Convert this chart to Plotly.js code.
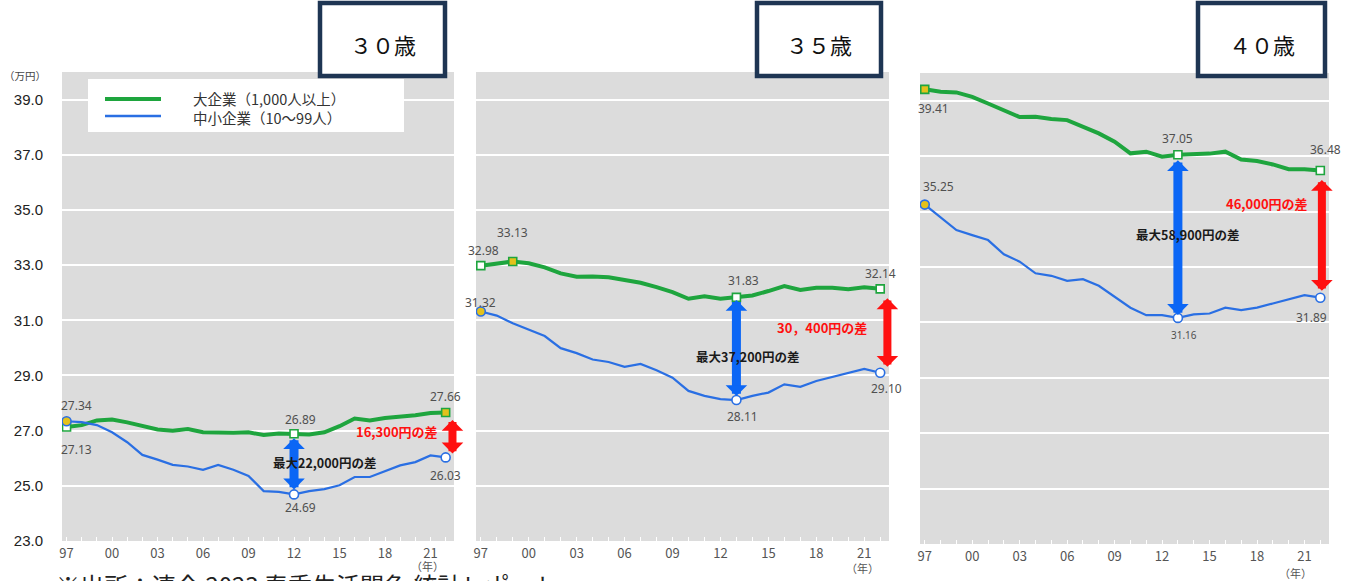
<!DOCTYPE html>
<html><head><meta charset="utf-8">
<script src="https://cdn.plot.ly/plotly-3.0.1.min.js"></script>
<style>html,body{margin:0;padding:0;background:#fff;}#chart{width:1349px;height:581px;}</style>
</head><body><div id="chart"></div>
<script>
// ---------------- data ----------------
const years = [1997,1998,1999,2000,2001,2002,2003,2004,2005,2006,2007,2008,2009,2010,2011,2012,2013,2014,2015,2016,2017,2018,2019,2020,2021,2022];
const large30 = [27.13,27.20,27.37,27.40,27.30,27.18,27.04,27.00,27.06,26.94,26.92,26.92,26.94,26.84,26.90,26.89,26.86,26.94,27.16,27.44,27.37,27.46,27.50,27.56,27.64,27.66];
const small30 = [27.34,27.31,27.20,26.94,26.58,26.12,25.95,25.76,25.70,25.58,25.76,25.58,25.36,24.81,24.78,24.69,24.81,24.88,25.02,25.32,25.32,25.53,25.74,25.86,26.10,26.03];
const large35 = [32.98,33.04,33.13,33.07,32.92,32.70,32.58,32.59,32.56,32.46,32.36,32.20,32.02,31.78,31.87,31.78,31.83,31.90,32.06,32.24,32.10,32.18,32.18,32.13,32.20,32.14];
const small35 = [31.32,31.17,30.89,30.65,30.43,29.99,29.81,29.58,29.49,29.31,29.42,29.19,28.92,28.44,28.26,28.14,28.11,28.26,28.38,28.68,28.59,28.80,28.94,29.10,29.24,29.10];
const large40 = [39.41,39.32,39.30,39.14,38.90,38.64,38.41,38.42,38.34,38.30,38.06,37.82,37.52,37.10,37.16,36.98,37.05,37.06,37.09,37.16,36.88,36.82,36.70,36.53,36.53,36.48];
const small40 = [35.25,34.78,34.33,34.15,33.97,33.46,33.19,32.77,32.68,32.50,32.56,32.32,31.92,31.53,31.26,31.26,31.16,31.29,31.32,31.53,31.44,31.53,31.68,31.84,31.98,31.89];
const seriesNames = ['大企業（1,000人以上）','中小企業（10〜99人）'];
const panelTitles = ['３０歳','３５歳','４０歳'];
const maxGapText = ['最大22,000円の差','最大37,200円の差','最大58,900円の差'];
const endGapText = ['16,300円の差','30，400円の差','46,000円の差'];
const xTickVals = [1997,2000,2003,2006,2009,2012,2015,2018,2021];
const xTickText = ['97','00','03','06','09','12','15','18','21'];
const yTickVals = [23,25,27,29,31,33,35,37,39];
const yTickText = ['23.0','25.0','27.0','29.0','31.0','33.0','35.0','37.0','39.0'];
const yUnit = '（万円）';
const xUnit = '（年）';
const sourceNote = '※出所：連合 2023 春季生活闘争 統計レポート';
// labelled points (indices into years)
const markIdxLarge = [[0,15,25],[0,2,16,25],[0,16,25]];
const markIdxSmall = [[0,15,25],[0,16,25],[0,16,25]];
const gapIdx = [15,16,16];

// ---------------- styling / layout ----------------
const W = 1349, H = 581;
const fx = p => p / W, fy = p => 1 - p / H;
const boxes = [{x0:62,x1:454,y0:72,y1:541},{x0:476,x1:889,y0:72,y1:541},{x0:920,x1:1329,y0:73,y1:544}];
const titleBoxes = [{x0:320,x1:445},{x0:757,x1:881},{x0:1198,x1:1325}];
const GREEN = '#1ea53e', BLUE = '#2a6fe3', ARROWBLUE = '#0b66f5', RED = '#ff1010', YEL = '#e3c11b';
const offLarge = [[[10,-22],[6,14],[0,16]],[[3,15],[0,29],[7,17],[0,15]],[[9,-19],[0,16],[5,21]]];
const offSmall = [[[10,16],[6,-13],[0,-18]],[[0,9],[6,-16],[6,-16]],[[14,18],[6,-17],[-9,-20]]];
const smallLblSize = [[12,12,12],[12,12,12],[12,10,12]];
const blueStand = [[5,3],[4,1],[3,4]];
const redStand = [[4,6],[6,8],[7,8]];
const redXOff = [0.45,0.45,0.1];
const maxTxtShift = [[30,2],[11,-8],[10,2]];
const endTxtShift = [[-55,3],[-65,3],[-55,31]];
const unitPos = [[427,566],[862,568],[1295,573]];

const dataSets = [[large30, small30],[large35, small35],[large40, small40]];
const traces = [], annotations = [], shapes = [];
const layout = {
  width: W, height: H, margin:{l:0,r:0,t:0,b:0},
  paper_bgcolor:'#ffffff', plot_bgcolor:'#dcdcdc', showlegend:false,
  font:{family:'"Noto Sans CJK JP", "Noto Sans", sans-serif', color:'#333'}
};
const paperNote = (px, py, text, font, extra) => Object.assign({x:fx(px), y:fy(py), xref:'paper', yref:'paper',
  xanchor:'center', yanchor:'middle', text:text, showarrow:false, font:font}, extra || {});

dataSets.forEach(([lg, sm], i) => {
  const s = i === 0 ? '' : String(i + 1);
  const xa = 'x' + s, ya = 'y' + s;
  const b = boxes[i];
  layout['xaxis' + s] = {
    domain:[fx(b.x0), fx(b.x1)], range:[1996.7, 2022.55], anchor: ya,
    tickvals:xTickVals, ticktext:xTickText, showgrid:false, zeroline:false, showline:false,
    ticks:'inside', ticklen:4, tickcolor:'#ffffff', tickwidth:1, ticklabelstandoff:3,
    minor:{dtick:1, tick0:1997, ticks:'inside', ticklen:4, tickcolor:'#ffffff', showgrid:false},
    tickfont:{size:13, color:'#555', family:'"Noto Sans CJK JP", sans-serif'}, fixedrange:true
  };
  layout['yaxis' + s] = {
    domain:[fy(b.y1), fy(b.y0)], range:[23, 40], anchor: xa,
    tickvals:yTickVals, ticktext:yTickText, showticklabels: i === 0,
    showgrid:true, gridcolor:'#ffffff', gridwidth:2, zeroline:false, showline:false,
    ticks:'', ticklabelstandoff:18,
    tickfont:{size:15, color:'#222', family:'"Liberation Sans", Arial, sans-serif'}, fixedrange:true
  };
  traces.push({x:years, y:lg, xaxis:xa, yaxis:ya, mode:'lines', name:seriesNames[0],
    line:{color:GREEN, width:4}, hoverinfo:'skip'});
  traces.push({x:years, y:sm, xaxis:xa, yaxis:ya, mode:'lines', name:seriesNames[1],
    line:{color:BLUE, width:2.2}, hoverinfo:'skip'});
  const lMax = Math.max(...lg), sMax = Math.max(...sm);
  const li = markIdxLarge[i], si = markIdxSmall[i];
  traces.push({x:li.map(k=>years[k]), y:li.map(k=>lg[k]), xaxis:xa, yaxis:ya, mode:'markers',
    marker:{symbol:'square', size:8, color:li.map(k=>lg[k]===lMax?YEL:'#ffffff'), line:{color:GREEN, width:1.6}}, hoverinfo:'skip'});
  traces.push({x:si.map(k=>years[k]), y:si.map(k=>sm[k]), xaxis:xa, yaxis:ya, mode:'markers',
    marker:{symbol:'circle', size:9, color:si.map(k=>sm[k]===sMax?YEL:'#ffffff'), line:{color:BLUE, width:1.6}}, hoverinfo:'skip'});
  // value labels
  li.forEach((k, j) => annotations.push({x:years[k], y:lg[k], xref:xa, yref:ya, text:lg[k].toFixed(2),
    showarrow:false, xanchor:'center', yanchor:'middle', xshift:offLarge[i][j][0], yshift:offLarge[i][j][1],
    font:{size:12, color:'#505050', family:'"Noto Sans", sans-serif'}}));
  si.forEach((k, j) => annotations.push({x:years[k], y:sm[k], xref:xa, yref:ya, text:sm[k].toFixed(2),
    showarrow:false, xanchor:'center', yanchor:'middle', xshift:offSmall[i][j][0], yshift:offSmall[i][j][1],
    font:{size:smallLblSize[i][j], color:'#505050', family:'"Noto Sans", sans-serif'}}));
  // max gap arrow
  const g = gapIdx[i];
  annotations.push({x:years[g], y:sm[g], ax:years[g], ay:lg[g], xref:xa, yref:ya, axref:xa, ayref:ya,
    text:'', showarrow:true, arrowhead:1, startarrowhead:1, arrowside:'end+start',
    arrowwidth:9, arrowsize:0.4, startarrowsize:0.4, arrowcolor:ARROWBLUE,
    standoff:blueStand[i][0], startstandoff:blueStand[i][1]});
  annotations.push({x:years[g], y:(lg[g]+sm[g])/2, xref:xa, yref:ya, text:maxGapText[i], showarrow:false,
    xanchor:'center', yanchor:'middle', xshift:maxTxtShift[i][0], yshift:maxTxtShift[i][1],
    font:{size:12.5, color:'#1a1a1a', family:'"Noto Sans CJK JP", sans-serif', weight:'bold'}});
  // end gap arrow
  const e = years.length - 1;
  const xr = years[e] + redXOff[i];
  annotations.push({x:xr, y:sm[e], ax:xr, ay:lg[e], xref:xa, yref:ya, axref:xa, ayref:ya,
    text:'', showarrow:true, arrowhead:1, startarrowhead:1, arrowside:'end+start',
    arrowwidth:8, arrowsize:0.45, startarrowsize:0.45, arrowcolor:RED,
    standoff:redStand[i][0], startstandoff:redStand[i][1]});
  annotations.push({x:xr, y:(lg[e]+sm[e])/2, xref:xa, yref:ya, text:endGapText[i], showarrow:false,
    xanchor:'center', yanchor:'middle', xshift:endTxtShift[i][0], yshift:endTxtShift[i][1],
    font:{size:13, color:RED, family:'"Noto Sans CJK JP", sans-serif', weight:'bold'}});
  // (年)
  annotations.push(paperNote(unitPos[i][0], unitPos[i][1], xUnit, {size:11, color:'#555'}, {borderpad:0}));
  // title boxes
  const tb = titleBoxes[i];
  shapes.push({type:'rect', xref:'paper', yref:'paper', x0:fx(tb.x0), x1:fx(tb.x1), y0:fy(76), y1:fy(3),
    line:{color:'#1e3553', width:4.5}, fillcolor:'#ffffff', layer:'above'});
  annotations.push(paperNote((tb.x0+tb.x1)/2, 44, panelTitles[i],
    {size:22, color:'#111', family:'"Noto Sans CJK JP", sans-serif'}));
});

// legend (custom)
shapes.push({type:'rect', xref:'paper', yref:'paper', x0:fx(88), x1:fx(404), y0:fy(132), y1:fy(79),
  line:{width:0}, fillcolor:'#ffffff', layer:'above'});
shapes.push({type:'line', xref:'paper', yref:'paper', x0:fx(105), x1:fx(161), y0:fy(99), y1:fy(99),
  line:{color:GREEN, width:4}, layer:'above'});
shapes.push({type:'line', xref:'paper', yref:'paper', x0:fx(105), x1:fx(161), y0:fy(116), y1:fy(116),
  line:{color:BLUE, width:2.5}, layer:'above'});
annotations.push(paperNote(192, 108, seriesNames.join('<br>'), {size:14.5, color:'#333'},
  {xanchor:'left', align:'left', borderpad:0}));
annotations.push(paperNote(25, 75, yUnit, {size:10.5, color:'#444'}));
annotations.push(paperNote(55, 566, sourceNote, {size:24, color:'#222'}, {xanchor:'left', yanchor:'top', borderpad:0}));

layout.annotations = annotations;
layout.shapes = shapes;
Plotly.newPlot('chart', traces, layout, {staticPlot:true, displayModeBar:false});
</script>
</body></html>
